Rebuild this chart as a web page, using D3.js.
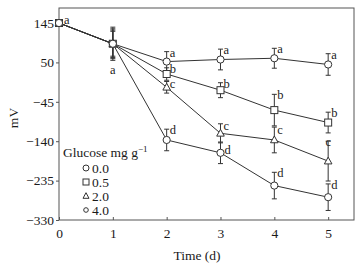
<!DOCTYPE html>
<html><head><meta charset="utf-8">
<script src="https://cdn.jsdelivr.net/npm/d3@7"></script>
<style>body{margin:0;background:#fff}svg{display:block}</style>
</head><body><svg id="c" width="363" height="269"></svg>
<script>
const days = [0, 1, 2, 3, 4, 5];
const seriesNames = ["0.0", "0.5", "2.0", "4.0"];
const mean00 = [145, 95, 52, 57, 60, 45];
const mean05 = [145, 95, 22, -17, -65, -95];
const mean20 = [145, 95, -10, -121, -137, -188];
const mean40 = [145, 95, -137, -168, -247, -275];
const err00 = [0, 40, 24, 25, 24, 26];
const err05 = [0, 36, 15, 18, 38, 25];
const err20 = [0, 33, 14, 23, 31, 48];
const err40 = [0, 30, 26, 26, 32, 32];
const let00 = ["a", "a", "a", "a", "a", "a"];
const let05 = ["", "", "b", "b", "b", "b"];
const let20 = ["", "", "c", "c", "c", "c"];
const let40 = ["", "", "d", "d", "d", "d"];
const yTicks = [145, 50, -45, -140, -235, -330];
const xTicks = [0, 1, 2, 3, 4, 5];
const legendTitle = "Glucose mg g";
const xLabel = "Time (d)";
const yLabel = "mV";

const means = [mean00, mean05, mean20, mean40];
const errs = [err00, err05, err20, err40];
const lets = [let00, let05, let20, let40];
const shapes = ["circle", "square", "triangle", "smallcircle"];

const FONT = "Liberation Serif";
const svg = d3.select("#c").attr("font-family", FONT);
const L = 59, R = 354, T = 8, B = 220;
const x = d3.scaleLinear().domain([0, 5.48]).range([L, R]);
const y = d3.scaleLinear().domain([-330, 181.2]).range([B, T]);
const col = "#333";
const tcol = "#1a1a1a";

svg.append("rect").attr("x", L).attr("y", T).attr("width", R - L).attr("height", B - T)
  .attr("fill", "none").attr("stroke", "#555").attr("stroke-width", 1);

const fmt = d => (d < 0 ? "\u2212" + Math.abs(d) : String(d));
const ya = svg.append("g").attr("transform", `translate(${L},0)`)
  .call(d3.axisLeft(y).tickValues(yTicks).tickFormat(fmt).tickSize(3).tickPadding(2));
ya.attr("font-family", FONT).attr("font-size", 13.5);
ya.select(".domain").remove();
ya.selectAll("line").attr("stroke", "#555");
ya.selectAll("text").attr("fill", tcol);

const xa = svg.append("g").attr("transform", `translate(0,${B})`)
  .call(d3.axisBottom(x).tickValues(xTicks).tickFormat(d3.format("d")).tickSizeInner(-3).tickSizeOuter(0).tickPadding(8));
xa.attr("font-family", FONT).attr("font-size", 13.5);
xa.select(".domain").remove();
xa.selectAll("line").attr("stroke", "#555");
xa.selectAll("text").attr("fill", tcol);

svg.append("text").attr("x", 197).attr("y", 260).attr("text-anchor", "middle")
  .attr("font-size", 13.5).attr("fill", tcol).text(xLabel);
svg.append("text").attr("transform", "translate(18,118) rotate(-90)").attr("text-anchor", "middle")
  .attr("font-size", 13.5).attr("fill", tcol).text(yLabel);

const line = d3.line().x((d, i) => x(days[i])).y(d => y(d));

function drawSym(g, shape, cx, cy) {
  if (shape === "circle" || shape === "smallcircle") g.append("circle").attr("cx", cx).attr("cy", cy).attr("r", 3.6);
  else if (shape === "square") g.append("rect").attr("x", cx - 3.5).attr("y", cy - 3.5).attr("width", 7).attr("height", 7);
  else g.append("path").attr("d", `M${cx},${cy - 4}L${cx + 3.8},${cy + 2.8}L${cx - 3.8},${cy + 2.8}Z`);
}

means.forEach(m => {
  svg.append("path").datum(m).attr("d", line).attr("fill", "none").attr("stroke", col).attr("stroke-width", 1);
});

means.forEach((m, s) => {
  m.forEach((v, i) => {
    const e = errs[s][i];
    if (!e) return;
    const cx = x(days[i]);
    const g = svg.append("g").attr("stroke", col).attr("stroke-width", 1);
    g.append("line").attr("x1", cx).attr("x2", cx).attr("y1", y(v + e)).attr("y2", y(v - e));
    [v + e, v - e].forEach(t => g.append("line").attr("x1", cx - 2.5).attr("x2", cx + 2.5).attr("y1", y(t)).attr("y2", y(t)));
  });
});

means.forEach((m, s) => {
  const g = svg.append("g").attr("fill", "#fff").attr("stroke", col).attr("stroke-width", 1);
  m.forEach((v, i) => drawSym(g, shapes[s], x(days[i]), y(v)));
});

means.forEach((m, s) => {
  m.forEach((v, i) => {
    const t = lets[s][i];
    if (!t) return;
    const cx = x(days[i]);
    const e = errs[s][i];
    let tx = cx + 3, ty = y(v + e) + (s === 2 ? 6.5 : 5), anchor = "start";
    if (i === 0) { tx = cx + 5; ty = y(v) + 1; }
    else if (i === 1) { tx = cx; ty = y(v - e) + 14; anchor = "middle"; }
    else if (s === 3 && i === 3) { tx = cx + 4; ty = y(v) + 1; }
    else if (s === 2 && i === 5) { tx = cx; ty = y(v + e) + 5; anchor = "middle"; }
    svg.append("text").attr("x", tx).attr("y", ty).attr("text-anchor", anchor)
      .attr("font-size", 12.5).attr("fill", tcol).text(t);
  });
});

const lg = svg.append("g");
const tt = lg.append("text").attr("x", 63).attr("y", 157).attr("font-size", 13.5).attr("fill", tcol);
tt.append("tspan").text(legendTitle);
tt.append("tspan").attr("dy", -5).attr("font-size", 9).text("\u22121");
seriesNames.forEach((n, k) => {
  const cy = 168 + k * 14;
  const gg = lg.append("g").attr("fill", "#fff").attr("stroke", col).attr("stroke-width", 1);
  if (shapes[k] === "circle") gg.append("circle").attr("cx", 86).attr("cy", cy).attr("r", 3);
  else if (shapes[k] === "smallcircle") gg.append("circle").attr("cx", 86).attr("cy", cy).attr("r", 2.3);
  else if (shapes[k] === "square") gg.append("rect").attr("x", 83).attr("y", cy - 3).attr("width", 6).attr("height", 6);
  else gg.append("path").attr("d", `M86,${cy - 3.3}L89,${cy + 2.3}L83,${cy + 2.3}Z`);
  lg.append("text").attr("x", 92).attr("y", cy + 4.5).attr("font-size", 13.5).attr("fill", tcol).text(n);
});
</script></body></html>
